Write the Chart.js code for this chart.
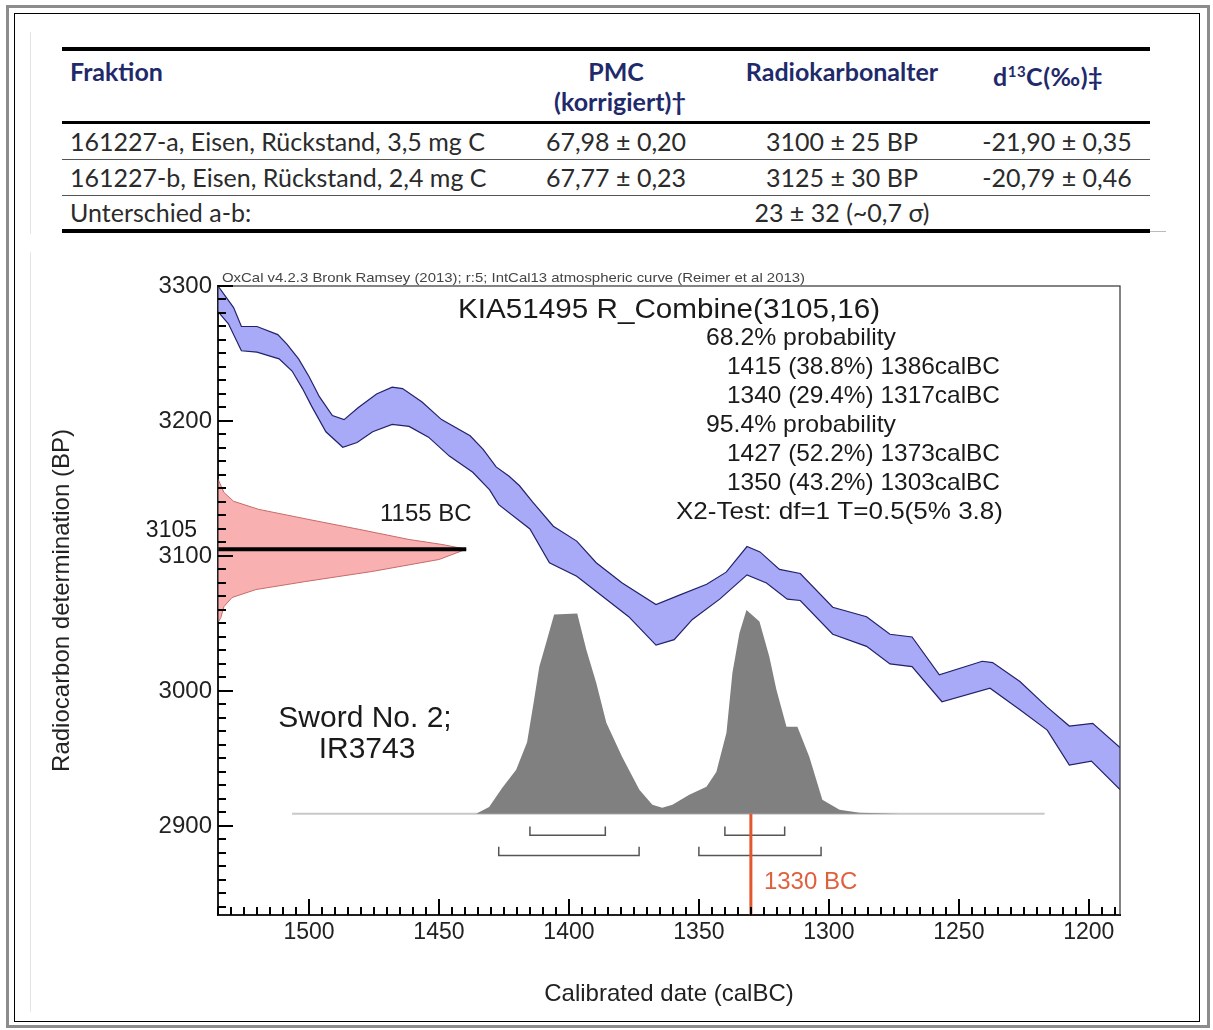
<!DOCTYPE html>
<html>
<head>
<meta charset="utf-8">
<script src="https://cdn.jsdelivr.net/npm/chart.js@4.4.1/dist/chart.umd.min.js"></script>
<style>
  html, body { margin: 0; padding: 0; background: #fff; }
  body { width: 1213px; height: 1030px; position: relative; overflow: hidden; }
  .abs { position: absolute; }
  #frameOuter { left: 6px; top: 5px; width: 1198px; height: 1017px; border: 3px solid #8c8c8c; }
  #frameInner { left: 14px; top: 13px; width: 1184px; height: 1007px; border: 1px solid #000; }
  .faint { width: 1px; background: #e4e4e4; }
  .rule { left: 62px; width: 1088px; background: #000; }
  .thin { left: 62px; width: 1088px; height: 1px; background: #555; }
  .t { font-family: Lato, "Noto Sans", sans-serif; font-size: 25px; color: #2b2b2b; height: 30px; line-height: 30px; white-space: nowrap; }
  .h { font-weight: bold; color: #1f2a6b; font-size: 25px; }
  .c { width: 240px; text-align: center; }
  #chart { position: absolute; left: 0; top: 0; }
</style>
</head>
<body>
<div id="frameOuter" class="abs"></div>
<div id="frameInner" class="abs"></div>
<div class="abs faint" style="left:30px;top:32px;height:202px"></div>
<div class="abs faint" style="left:30px;top:252px;height:760px"></div>

<div class="abs rule" style="top:47px;height:4px"></div>
<div class="abs t h" style="left:70px;top:56px">Fraktion</div>
<div class="abs t h c" style="left:496px;top:56px">PMC</div>
<div class="abs t h c" style="left:500px;top:86px">(korrigiert)&#8224;</div>
<div class="abs t h c" style="left:722px;top:56px">Radiokarbonalter</div>
<div class="abs t h c" style="left:928px;top:56px;letter-spacing:0.5px">d<sup style="font-size:15px">13</sup>C(&#8240;)&#8225;</div>
<div class="abs rule" style="top:121px;height:3px"></div>

<div class="abs t" style="left:70px;top:126px">161227-a, Eisen, Rückstand, 3,5 mg C</div>
<div class="abs t c" style="left:496px;top:126px">67,98 ± 0,20</div>
<div class="abs t c" style="left:722px;top:126px">3100 ± 25 BP</div>
<div class="abs t c" style="left:937px;top:126px">-21,90 ± 0,35</div>
<div class="abs thin" style="top:159px"></div>

<div class="abs t" style="left:70px;top:162px">161227-b, Eisen, Rückstand, 2,4 mg C</div>
<div class="abs t c" style="left:496px;top:162px">67,77 ± 0,23</div>
<div class="abs t c" style="left:722px;top:162px">3125 ± 30 BP</div>
<div class="abs t c" style="left:937px;top:162px">-20,79 ± 0,46</div>
<div class="abs thin" style="top:195px"></div>

<div class="abs t" style="left:70px;top:197px">Unterschied a-b:</div>
<div class="abs t c" style="left:722px;top:197px">23 ± 32 (~0,7 σ)</div>
<div class="abs rule" style="top:229px;height:4px"></div>
<div class="abs" style="left:1150px;top:231px;width:16px;height:1px;background:#bbb"></div>

<canvas id="chart" width="1213" height="1030"></canvas>

<script>
// calibration curve (IntCal13 band), [calBC, BP]
const curveUpper = [
  [1535, 3300], [1529, 3284], [1526, 3270], [1520, 3270], [1512, 3264], [1508.5, 3257],
  [1504, 3246], [1500, 3233], [1496, 3218], [1491, 3204], [1486.5, 3201], [1481, 3210],
  [1474, 3220], [1468, 3225], [1464, 3224], [1456.5, 3214], [1449, 3201], [1438, 3189],
  [1433, 3179], [1428, 3166], [1423, 3159], [1419, 3152], [1414, 3140], [1406, 3122],
  [1397, 3111], [1389.5, 3095], [1379.5, 3080], [1366.5, 3064], [1357.5, 3071], [1347, 3079],
  [1339.5, 3088], [1331.5, 3107], [1326.5, 3103], [1319, 3090], [1311, 3087], [1298.5, 3062],
  [1285.5, 3055], [1276.5, 3042], [1268, 3040], [1257.5, 3012], [1241, 3022], [1237, 3021],
  [1226.5, 3007], [1216, 2988], [1207.5, 2974], [1198.5, 2976], [1188, 2958]
];
const curveLower = [
  [1535, 3281], [1531, 3272], [1526, 3252], [1520, 3251], [1511.5, 3246], [1506.5, 3237],
  [1502.5, 3224], [1499, 3211], [1493.5, 3192], [1487, 3180.5], [1481.5, 3184], [1475.5, 3192],
  [1468, 3197.5], [1461.5, 3196], [1454, 3188], [1446, 3174], [1437, 3162], [1430.5, 3149],
  [1427, 3138], [1415, 3120], [1407.5, 3095], [1397, 3085], [1387, 3070], [1377, 3055],
  [1366.5, 3034], [1359.5, 3038], [1352.5, 3053], [1342, 3068], [1331.5, 3086], [1324, 3080],
  [1316, 3068], [1311, 3067], [1298.5, 3042], [1285.5, 3033], [1276.5, 3020], [1268, 3018],
  [1256.5, 2992], [1238, 3002], [1226.5, 2986], [1216, 2971], [1207.5, 2945], [1199, 2948],
  [1188, 2927]
];

// radiocarbon date R_Combine(3105,16), drawn against the BP axis
const dateCurve = [
  [1535, 3157], [1532.7, 3147], [1529, 3140.5], [1519.3, 3134.5], [1500, 3127], [1480.7, 3119.7],
  [1461.5, 3112.2], [1448.8, 3108.5], [1439.5, 3105], [1449.9, 3097.4], [1475.7, 3088.5],
  [1501.2, 3081.1], [1520.4, 3075.1], [1529.6, 3069.2], [1532.7, 3062.5], [1533.9, 3054.4],
  [1535, 3050.6]
];
const dateMean = 3105;
const datePeakYear = 1439.5;

// calibrated probability distribution
const posterior = [
  [1446, 2909], [1435.7, 2909], [1430.7, 2914], [1425.7, 2928], [1420.3, 2941.6], [1416.1, 2962],
  [1413.4, 2993.5], [1411.4, 3018], [1408.7, 3036], [1405.7, 3056.6], [1396.8, 3057.3],
  [1393.3, 3030.6], [1389.5, 3006], [1385.6, 2976.4], [1379.5, 2951], [1372.9, 2926.7],
  [1367.9, 2915.6], [1364.1, 2913.4], [1360.2, 2915.6], [1353.7, 2923], [1347.1, 2929],
  [1343.3, 2940], [1339.4, 2969], [1337.1, 3013.5], [1334.4, 3043], [1331.7, 3060],
  [1326.7, 3051.4], [1322.9, 3025.4], [1320.2, 3001], [1316.3, 2973.5], [1312.1, 2973.5],
  [1307.5, 2951], [1302.5, 2919.3], [1295.9, 2912], [1288.2, 2909.7], [1272.8, 2909]
];
const posteriorBase = 2909;
const baselineSpan = [1506.5, 1217];

// highest probability ranges (calBC)
const range68 = [[1415, 1386], [1340, 1317]];
const range95 = [[1427, 1373], [1350, 1303]];
const markerYear = 1330;

const xTicks = [1500, 1450, 1400, 1350, 1300, 1250, 1200];
const yTicks = [3300, 3200, 3100, 3000, 2900];

// text, left x, right x
const infoLines = [
  ['68.2% probability', 706, 896],
  ['1415 (38.8%) 1386calBC', 727, 1000],
  ['1340 (29.4%) 1317calBC', 727, 1000],
  ['95.4% probability', 706, 896],
  ['1427 (52.2%) 1373calBC', 727, 1000],
  ['1350 (43.2%) 1303calBC', 727, 1000],
  ['X2-Test: df=1 T=0.5(5% 3.8)', 676, 1003]
];

const pts = arr => arr.map(([x, y]) => ({ x, y }));
const FONT = '"Liberation Sans", Arial, sans-serif';

const line = (data, color, width, order, extra) => Object.assign({
  data, showLine: true, borderColor: color, borderWidth: width,
  pointRadius: 0, fill: false, order, tension: 0
}, extra || {});

const datasets = [
  line(pts(curveUpper), '#22226a', 1.2, 10),
  line(pts(curveLower), '#22226a', 1.2, 10, { fill: '-1', backgroundColor: 'rgba(168,170,248,1)' }),
  line(pts(dateCurve), '#c86a6a', 1, 9, { fill: 'shape', backgroundColor: 'rgba(249,176,176,1)' }),
  line(pts(baselineSpan.map(x => [x, posteriorBase])), '#c8c8c8', 2, 8),
  line(pts(posterior), 'rgba(0,0,0,0)', 0, 7, { fill: { value: posteriorBase }, backgroundColor: '#808080' })
];
const bracket = (r, level) => [[r[0], level + 6.5], [r[0], level], [r[1], level], [r[1], level + 6.5]];
range68.forEach(r => datasets.push(line(pts(bracket(r, 2893)), '#555', 1.5, 5)));
range95.forEach(r => datasets.push(line(pts(bracket(r, 2878)), '#555', 1.5, 5)));
datasets.push(line(pts([[1535, dateMean], [datePeakYear, dateMean]]), '#000', 4, 3));
datasets.push(line(pts([[markerYear, posteriorBase], [markerYear, 2834]]), '#e4572e', 3, 2));

// stretch a text horizontally so it spans [x0, x1]
function spanText(ctx, txt, x0, x1, y) {
  const w = ctx.measureText(txt).width;
  ctx.save();
  ctx.translate(x0, y);
  ctx.scale((x1 - x0) / w, 1);
  ctx.fillText(txt, 0, 0);
  ctx.restore();
}

const frameAndTicks = {
  id: 'frameAndTicks',
  afterDraw(chart) {
    const ctx = chart.ctx;
    const area = chart.chartArea;
    const xs = chart.scales.x;
    const ys = chart.scales.y;
    ctx.save();
    ctx.strokeStyle = '#333';
    ctx.lineWidth = 1.2;
    ctx.strokeRect(area.left, area.top, area.right - area.left, area.bottom - area.top);

    // inward tick marks
    ctx.fillStyle = '#000';
    for (let v = 1190; v <= 1535; v += 5) {
      const px = Math.round(xs.getPixelForValue(v));
      const len = v % 50 === 0 ? 16 : 8;
      ctx.fillRect(px - 1, area.bottom - len, 2, len);
    }
    for (let v = 2840; v <= 3300; v += 10) {
      const py = Math.round(ys.getPixelForValue(v));
      const len = v % 100 === 0 ? 15 : 8;
      ctx.fillRect(area.left, py - 1, len, 2);
    }

    ctx.textBaseline = 'middle';
    ctx.textAlign = 'left';
    ctx.font = '13px ' + FONT;
    ctx.fillStyle = '#444';
    spanText(ctx, 'OxCal v4.2.3 Bronk Ramsey (2013); r:5; IntCal13 atmospheric curve (Reimer et al 2013)', area.left + 4, 805, area.top - 8);

    ctx.fillStyle = '#1a1a1a';
    ctx.font = '28px ' + FONT;
    spanText(ctx, 'KIA51495 R_Combine(3105,16)', 458, 880, 310);
    ctx.font = '24px ' + FONT;
    infoLines.forEach(([txt, x0, x1], i) => spanText(ctx, txt, x0, x1, 338 + i * 29));

    ctx.fillText('1155 BC', 380, 514);

    ctx.textAlign = 'right';
    ctx.font = '23px ' + FONT;
    ctx.fillText('3105', 197, ys.getPixelForValue(dateMean) - 19);

    ctx.textAlign = 'center';
    ctx.font = '30px ' + FONT;
    ctx.fillText('Sword No. 2;', 365, 719);
    ctx.fillText('IR3743', 367, 750);

    ctx.textAlign = 'left';
    ctx.font = '24px ' + FONT;
    ctx.fillStyle = '#e0603c';
    ctx.fillText('1330 BC', xs.getPixelForValue(markerYear) + 13, 882);
    ctx.restore();
  }
};

new Chart(document.getElementById('chart'), {
  type: 'scatter',
  data: { datasets },
  options: {
    responsive: false,
    animation: false,
    layout: { padding: { left: 0, top: 286, right: 93, bottom: 0 } },
    plugins: { legend: { display: false }, tooltip: { enabled: false } },
    scales: {
      x: {
        type: 'linear',
        reverse: true,
        min: 1188,
        max: 1535,
        grid: { display: false, drawTicks: false },
        border: { display: true, color: '#000', width: 2 },
        afterBuildTicks: s => { s.ticks = xTicks.map(value => ({ value })); },
        ticks: { color: '#222', padding: 4, font: { family: FONT, size: 23 }, maxRotation: 0, autoSkip: false, callback: v => String(v) },
        title: { display: true, text: 'Calibrated date (calBC)', color: '#222', font: { family: FONT, size: 24 }, padding: { top: 0, bottom: 21 } },
        afterFit: s => { s.height = 115; }
      },
      y: {
        type: 'linear',
        min: 2834,
        max: 3300,
        grid: { display: false, drawTicks: false },
        border: { display: true, color: '#000', width: 2 },
        afterBuildTicks: s => { s.ticks = yTicks.map(value => ({ value })); },
        ticks: { color: '#222', padding: 6, font: { family: FONT, size: 24 }, autoSkip: false, callback: v => String(v) },
        title: { display: true, text: 'Radiocarbon determination (BP)', color: '#222', font: { family: FONT, size: 24 }, padding: { top: 48, bottom: 0 } },
        afterFit: s => { s.width = 218; }
      }
    }
  },
  plugins: [frameAndTicks]
});
</script>
</body>
</html>
